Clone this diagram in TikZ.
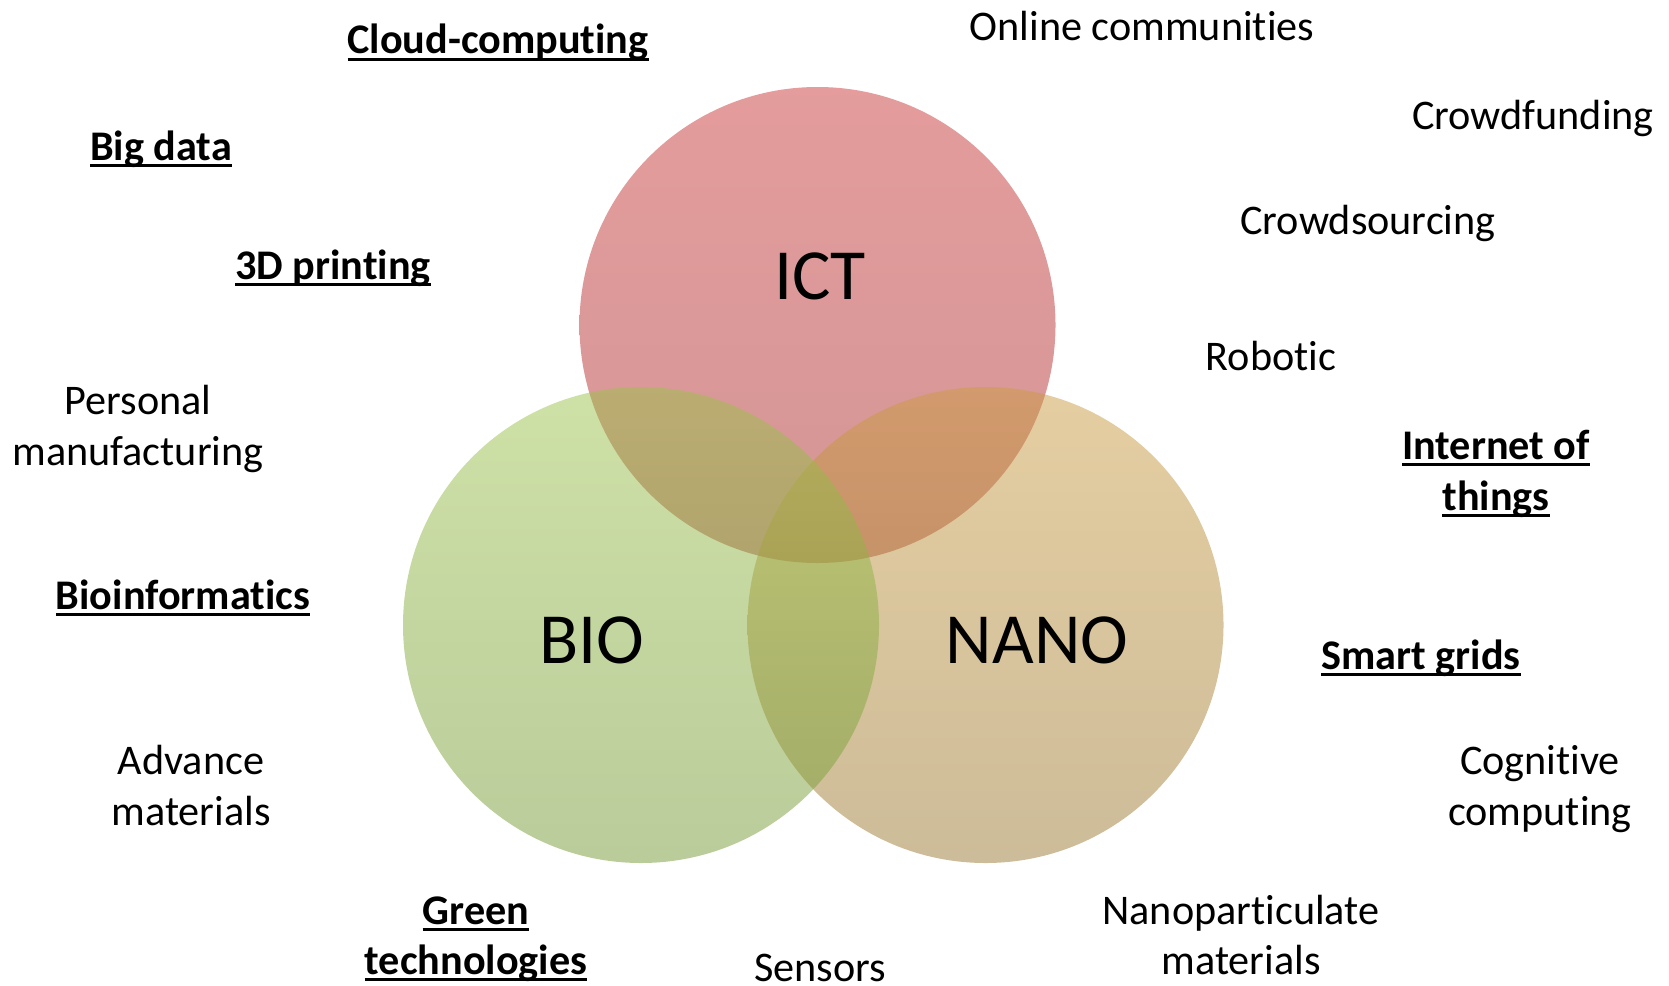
\documentclass[tikz,border=0pt]{standalone}
\usepackage{fontspec}
\setmainfont{Carlito}[Ligatures={NoCommon}]
\newcommand\ulbf[1]{\setbox0\hbox{\bfseries #1}\rlap{\rule[-3.4pt]{\wd0}{1.4pt}}\box0}
\definecolor{ictT}{RGB}{201,57,57}
\definecolor{ictB}{RGB}{169,45,45}
\definecolor{bioT}{RGB}{157,195,77}
\definecolor{bioB}{RGB}{117,153,53}
\definecolor{nanoT}{RGB}{203,157,67}
\definecolor{nanoB}{RGB}{155,121,51}
\begin{document}
\begin{tikzpicture}[x=0.5pt,y=-0.5pt,
  lbl/.style={anchor=base, inner sep=0pt, font=\fontsize{21.1pt}{25.3pt}\selectfont},
  big/.style={anchor=base, inner sep=0pt, font=\fontsize{36pt}{43pt}\selectfont},
  circ/.style={circle, minimum size=238pt, inner sep=0pt, opacity=0.5}]
\useasboundingbox (0,0) rectangle (1669,985);
% circles
\node[circ, top color=ictT, bottom color=ictB] (ict) at (817.5,325) {};
\node[circ, top color=nanoT, bottom color=nanoB] (nano) at (985.5,625) {};
\node[circ, top color=bioT, bottom color=bioB] (bio) at (641,625) {};
% big labels
\node[big] (tict) at (820,299) {ICT};
\node[big] (tbio) at (592,663) {BIO};
\node[big] (tnano) at (1037,663) {NANO};
% left labels
\node[lbl] (cloud) at (498,54) {\ulbf{Cloud-computing}};
\node[lbl] (bigdata) at (161,160) {\ulbf{Big data}};
\node[lbl] (print) at (333,279) {\ulbf{3D printing}};
\node[lbl] (pers1) at (138,414) {Personal};
\node[lbl] (pers2) at (138,465) {manufacturing};
\node[lbl] (bioinf) at (183,609) {\ulbf{Bioinformatics}};
\node[lbl] (adv1) at (191,774) {Advance};
\node[lbl] (adv2) at (191,825) {materials};
\node[lbl] (green1) at (476,924) {\ulbf{Green}};
\node[lbl] (green2) at (476,974) {\ulbf{technologies}};
\node[lbl] (sens) at (820,981) {Sensors};
% right labels
\node[lbl] (online) at (1142,40) {Online communities};
\node[lbl] (cfund) at (1533,129) {Crowdfunding};
\node[lbl] (csrc) at (1368,234) {Crowdsourcing};
\node[lbl] (robot) at (1271,370) {Robotic};
\node[lbl] (iot1) at (1496,459) {\ulbf{Internet of}};
\node[lbl] (iot2) at (1496,510) {\ulbf{things}};
\node[lbl] (smart) at (1421,669) {\ulbf{Smart grids}};
\node[lbl] (cog1) at (1540,774) {Cognitive};
\node[lbl] (cog2) at (1540,825) {computing};
\node[lbl] (nanop1) at (1241,924) {Nanoparticulate};
\node[lbl] (nanop2) at (1241,974) {materials};
\end{tikzpicture}
\end{document}
